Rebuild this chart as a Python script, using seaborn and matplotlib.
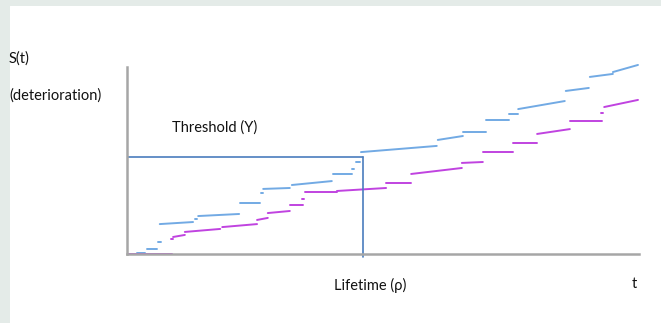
import pandas as pd
import matplotlib
matplotlib.use("Agg")
import matplotlib.pyplot as plt
import seaborn as sns

# Segmenti della curva di degrado (inizio/fine in t, inizio/fine in S)
blu_x0 = [1.9, 3.9, 6.0, 6.4, 13.3, 13.9, 22.1, 26.2, 26.6, 32.2, 40.2, 43.9, 44.7, 45.7, 60.7, 65.6, 70.1, 74.6, 76.4, 85.7, 90.4, 94.9]
blu_x1 = [3.5, 5.9, 6.6, 12.9, 13.7, 21.9, 26.0, 26.6, 31.8, 40.0, 43.9, 44.3, 45.5, 60.5, 65.6, 70.1, 74.6, 76.4, 85.5, 90.2, 94.9, 99.8]
blu_y0 = [0.5, 2.7, 6.4, 16.0, 18.7, 20.3, 27.3, 32.6, 34.8, 36.9, 42.8, 45.5, 49.2, 54.5, 61.0, 65.2, 71.7, 74.9, 77.5, 87.2, 94.7, 97.3]
blu_y1 = [0.5, 2.7, 6.4, 17.1, 18.7, 21.4, 27.3, 32.6, 35.3, 39.0, 42.8, 45.5, 49.2, 57.8, 63.1, 65.2, 71.7, 74.9, 81.8, 88.8, 96.3, 101.1]

viola_x0 = [0.0, 8.6, 9.0, 11.3, 18.6, 25.4, 27.5, 31.8, 34.2, 34.8, 41.0, 50.6, 55.5, 65.4, 69.5, 75.4, 80.1, 86.5, 92.6, 93.2]
viola_x1 = [8.8, 9.0, 11.3, 18.2, 25.4, 27.5, 31.8, 34.4, 34.6, 41.0, 50.6, 55.5, 65.4, 69.5, 75.4, 80.1, 86.5, 92.8, 93.0, 99.8]
viola_y0 = [0.0, 8.0, 9.1, 11.8, 14.4, 18.2, 21.9, 26.2, 29.4, 33.2, 33.7, 38.0, 42.8, 48.7, 54.5, 59.4, 64.2, 71.1, 75.4, 78.6]
viola_y1 = [0.0, 8.0, 10.2, 13.4, 16.0, 19.3, 23.0, 26.2, 29.4, 33.2, 35.3, 38.0, 46.0, 49.2, 54.5, 59.4, 66.8, 71.1, 75.4, 82.4]

soglia = 52.0
vita = 46.0


def segmenti(nome, x0, x1, y0, y1):
    righe = []
    for i in range(len(x0)):
        righe.append({"serie": nome, "seg": f"{nome}{i}", "t": x0[i], "S": y0[i]})
        righe.append({"serie": nome, "seg": f"{nome}{i}", "t": x1[i], "S": y1[i]})
    return righe


df = pd.DataFrame(segmenti("blu", blu_x0, blu_x1, blu_y0, blu_y1)
                  + segmenti("viola", viola_x0, viola_x1, viola_y0, viola_y1))

sns.set_style("white")
plt.rcParams["font.family"] = ["Lato", "DejaVu Sans"]

fig = plt.figure(figsize=(6.61, 3.23), dpi=100)
fig.patch.set_facecolor("#e4ebe8")

# area bianca
sfondo = fig.add_axes([10 / 661, 0, 651 / 661, 317 / 323])
sfondo.set_facecolor("white")
sfondo.set_axis_off()
sfondo.add_patch(plt.Rectangle((0, 0), 1, 1, color="white", transform=sfondo.transAxes))

ax = fig.add_axes([127 / 661, 69 / 323, 512 / 661, 192.6 / 323])
ax.patch.set_alpha(0)

sns.lineplot(data=df, x="t", y="S", hue="serie", units="seg", estimator=None,
             palette={"blu": "#72aae4", "viola": "#c043e0"}, linewidth=1.4,
             legend=False, ax=ax)

# soglia e tempo di vita
ax.plot([0, vita], [soglia, soglia], color="#4a7dbd", lw=1.2)
ax.plot([vita, vita], [-1.6, soglia], color="#4a7dbd", lw=1.2, clip_on=False)

ax.set_xlim(0, 100)
ax.set_ylim(0, 103)
ax.set_xticks([])
ax.set_yticks([])
ax.set_xlabel("")
ax.set_ylabel("")
sns.despine(ax=ax)
ax.spines["left"].set_bounds(0, 100)
for s in ["left", "bottom"]:
    ax.spines[s].set_color("#a6a6a6")
    ax.spines[s].set_linewidth(1.8)

def testo(x, y, s):
    fig.text(x / 661, 1 - y / 323, s, fontsize=10.5, color="#111111", ha="left", va="center")

testo(9, 59, "S(t)")
testo(9, 96, "(deterioration)")
testo(172, 128, "Threshold (Y)")
testo(334, 285, "Lifetime (ρ)")
testo(632, 284, "t")

plt.savefig("out.png", dpi=100, facecolor=fig.get_facecolor())
plt.close()
